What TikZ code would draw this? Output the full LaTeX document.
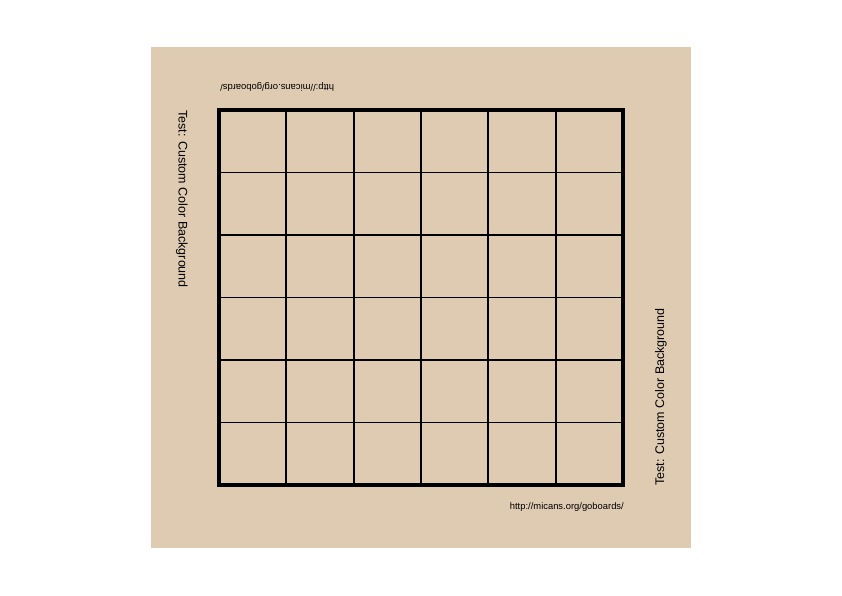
\documentclass[tikz,border=0pt]{standalone}
\usepackage{fontspec}
\setmainfont{Liberation Sans}
\definecolor{boardbg}{RGB}{222,203,178}
\begin{document}
\begin{tikzpicture}[x=1pt,y=-1pt,
  gridline/.style={line width=1.9pt,black},
  gridframe/.style={line width=3.6pt,black,line join=miter},
  sidetext/.style={inner sep=0pt,font=\fontsize{12.5}{15}\selectfont},
  urltext/.style={inner sep=0pt,font=\fontsize{9.4}{11}\selectfont}]
\useasboundingbox (0,0) rectangle (842,595);
\fill[boardbg] (151,47) rectangle (691,548);
% grid
\foreach \i in {1,...,5} {
  \draw[gridline] ({219+\i*404/6},110) -- ({219+\i*404/6},485);
  \draw[gridline] (219,{110+\i*375/6}) -- (623,{110+\i*375/6});
}
\draw[gridframe] (219,110) rectangle (623,485);
% texts
\node[sidetext,rotate=-90,anchor=base west] (lefttxt) at (178.5,110) {Test: Custom Color Background};
\node[sidetext,rotate=90,anchor=base west] (righttxt) at (664,486) {Test: Custom Color Background};
\node[urltext,anchor=base east] (boturl) at (624,509.5) {http://micans.org/goboards/};
\node[urltext,rotate=180,anchor=base east] (topurl) at (220,84.5) {http://micans.org/goboards/};
\end{tikzpicture}
\end{document}
